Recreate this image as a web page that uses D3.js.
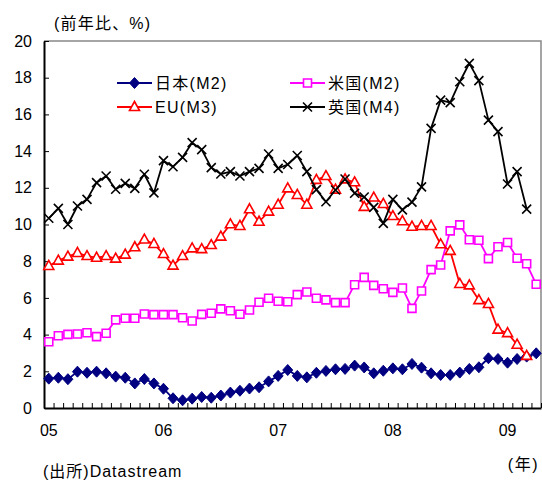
<!DOCTYPE html>
<html>
<head>
<meta charset="utf-8">
<script src="https://cdn.jsdelivr.net/npm/d3@7/dist/d3.min.js"></script>
<style>
  html, body { margin: 0; padding: 0; background: #fff; }
  svg { display: block; }
  text { font-family: "Liberation Sans", Arial, "Noto Sans CJK JP", sans-serif; fill: #000; }
</style>
</head>
<body>
<svg id="chart" width="542" height="480"></svg>
<script>
// Monthly categories, Jan 2005 – Apr 2009
const months = [
  "2005-01","2005-02","2005-03","2005-04","2005-05","2005-06","2005-07","2005-08","2005-09","2005-10","2005-11","2005-12",
  "2006-01","2006-02","2006-03","2006-04","2006-05","2006-06","2006-07","2006-08","2006-09","2006-10","2006-11","2006-12",
  "2007-01","2007-02","2007-03","2007-04","2007-05","2007-06","2007-07","2007-08","2007-09","2007-10","2007-11","2007-12",
  "2008-01","2008-02","2008-03","2008-04","2008-05","2008-06","2008-07","2008-08","2008-09","2008-10","2008-11","2008-12",
  "2009-01","2009-02","2009-03","2009-04"
];
const yearTicks = ["2005-01","2006-01","2007-01","2008-01","2009-01"];
const yearLabels = ["05","06","07","08","09"];
const yTicks = [0, 2, 4, 6, 8, 10, 12, 14, 16, 18, 20];

// Money supply growth, year-on-year %
const japanM2 = [1.60,1.65,1.57,1.98,1.92,1.98,1.89,1.71,1.65,1.34,1.58,1.34,
  1.05,0.53,0.42,0.51,0.60,0.56,0.68,0.84,0.94,1.06,1.13,1.45,
  1.75,2.07,1.75,1.67,1.92,2.02,2.11,2.13,2.31,2.21,1.89,2.03,
  2.16,2.11,2.40,2.20,1.89,1.80,1.80,1.93,2.13,2.22,2.71,2.67,
  2.47,2.67,2.80,2.98];
const usM2 = [3.61,3.94,4.01,4.03,4.10,3.89,4.07,4.80,4.89,4.89,5.12,5.09,
  5.09,5.09,4.92,4.74,5.10,5.16,5.40,5.30,5.11,5.34,5.76,5.98,
  5.82,5.79,6.18,6.32,5.98,5.89,5.74,5.74,6.72,7.12,6.68,6.50,
  6.30,6.54,5.43,6.38,7.54,7.79,9.65,9.98,9.17,9.14,8.14,8.79,
  9.02,8.16,7.86,6.74];
const euM3 = [7.74,8.03,8.25,8.45,8.28,8.19,8.28,8.14,8.36,8.76,9.18,8.94,
  8.39,7.76,8.28,8.70,8.66,8.88,9.34,10.01,9.92,10.83,10.15,10.70,
  11.08,11.97,11.61,11.08,12.43,12.64,11.90,12.46,12.30,10.96,11.47,11.12,
  10.46,10.18,9.88,9.92,9.92,8.92,8.56,6.76,6.68,5.88,5.67,4.27,
  4.08,3.45,2.84];
const ukM4 = [10.34,10.88,10.00,11.01,11.37,12.28,12.64,11.92,12.24,11.97,12.74,11.72,
  13.48,13.15,13.66,14.46,14.08,13.10,12.75,12.88,12.64,12.88,13.06,13.84,
  13.06,13.27,13.76,12.88,11.90,11.24,11.88,12.48,11.70,11.50,10.93,10.06,
  11.37,10.80,11.22,12.05,15.24,16.78,16.64,17.78,18.78,17.84,15.69,15.06,
  12.21,12.88,10.84];

const seriesNames = ["日本(M2)", "米国(M2)", "EU(M3)", "英国(M4)"];
const seriesColors = ["#000080", "#FF00FF", "#FF0000", "#000000"];
const seriesMarkers = ["diamond", "square", "triangle", "cross"];
const seriesValues = [japanM2, usM2, euM3, ukM4];

const svg = d3.select("#chart");
const L = 44, R = 541, T = 41, B = 408;

const x = d3.scaleBand().domain(months).range([L, R]).padding(0);
const xEdge = d3.scaleLinear().domain([0, months.length]).range([L, R]);
const y = d3.scaleLinear().domain([0, 20]).range([B, T]);

// marker path generators
function markerPath(kind) {
  switch (kind) {
    case "diamond": return "M0,-5.5L5,0L0,5.5L-5,0Z";
    case "square": return "M-4,-4H4V4H-4Z";
    case "triangle": return "M0,-5.5L5,3.5H-5Z";
    case "cross": return "M-4.5,-4.5L4.5,4.5M-4.5,4.5L4.5,-4.5";
  }
}
function markerFill(kind, color) {
  if (kind === "diamond") return color;
  if (kind === "cross") return "none";
  return "#fff";
}

// frame: top and right in grey
svg.append("path")
  .attr("d", `M${L},${T}H${R}V${B}`)
  .attr("fill", "none").attr("stroke", "#888").attr("stroke-width", 1.5);

// y axis with inward ticks
const yAxis = svg.append("g").attr("transform", `translate(${L},0)`)
  .call(d3.axisLeft(y).tickValues(yTicks).tickSizeInner(-5).tickSizeOuter(0).tickPadding(12));
yAxis.select(".domain").attr("stroke", "#000").attr("stroke-width", 2);
yAxis.selectAll(".tick line").attr("stroke", "#000").attr("stroke-width", 1);
yAxis.selectAll(".tick text").attr("font-size", 16).attr("font-family", "Liberation Sans, Arial, sans-serif").attr("fill", "#000");

// x axis: month boundary ticks pointing inward
const xTickAxis = svg.append("g").attr("transform", `translate(0,${B})`)
  .call(d3.axisBottom(xEdge).tickValues(d3.range(months.length + 1)).tickSizeInner(-5).tickSizeOuter(0).tickFormat(""));
xTickAxis.select(".domain").attr("stroke", "#000").attr("stroke-width", 2);
xTickAxis.selectAll(".tick line").attr("stroke", "#000").attr("stroke-width", 1);

// year labels centred on January
const xLabelAxis = svg.append("g").attr("transform", `translate(0,${B})`)
  .call(d3.axisBottom(x).tickValues(yearTicks).tickSize(0).tickPadding(17)
    .tickFormat(d => yearLabels[yearTicks.indexOf(d)]));
xLabelAxis.select(".domain").remove();
xLabelAxis.selectAll(".tick text").attr("font-size", 16).attr("font-family", "Liberation Sans, Arial, sans-serif").attr("fill", "#000");

// series lines and markers
const line = d3.line()
  .x((d, i) => x(months[i]) + x.bandwidth() / 2)
  .y(d => y(d));

seriesValues.forEach((vals, s) => {
  const g = svg.append("g");
  g.append("path").datum(vals)
    .attr("d", line)
    .attr("fill", "none")
    .attr("stroke", seriesColors[s])
    .attr("stroke-width", 1.8)
    .attr("stroke-linejoin", "round");
  g.selectAll("path.mk").data(vals).join("path")
    .attr("class", "mk")
    .attr("transform", (d, i) => `translate(${x(months[i]) + x.bandwidth() / 2},${y(d)})`)
    .attr("d", markerPath(seriesMarkers[s]))
    .attr("fill", markerFill(seriesMarkers[s], seriesColors[s]))
    .attr("stroke", seriesColors[s])
    .attr("stroke-width", seriesMarkers[s] === "diamond" ? 1 : 1.6);
});

// legend, two columns
const legendPos = [[117, 83], [290, 83], [117, 107], [290, 107]];
seriesNames.forEach((name, s) => {
  const [lx, ly] = legendPos[s];
  const g = svg.append("g").attr("transform", `translate(${lx},${ly})`);
  g.append("line").attr("x1", 0).attr("x2", 35).attr("y1", 0).attr("y2", 0)
    .attr("stroke", seriesColors[s]).attr("stroke-width", 1.8);
  g.append("path").attr("transform", "translate(17.5,0)")
    .attr("d", markerPath(seriesMarkers[s]))
    .attr("fill", markerFill(seriesMarkers[s], seriesColors[s]))
    .attr("stroke", seriesColors[s])
    .attr("stroke-width", seriesMarkers[s] === "diamond" ? 1 : 1.6);
  g.append("text").attr("x", 38).attr("y", 6)
    .attr("font-size", 16).attr("letter-spacing", 1.3)
    .text(name);
});

// titles and notes
svg.append("text").attr("x", 54).attr("y", 29).attr("font-size", 16).attr("letter-spacing", 1.2)
  .text("(前年比、%)");
svg.append("text").attr("x", 539).attr("y", 470).attr("font-size", 16).attr("text-anchor", "end")
  .attr("letter-spacing", 1.5).text("(年)");
svg.append("text").attr("x", 43).attr("y", 477).attr("font-size", 16).attr("letter-spacing", 1)
  .text("(出所)Datastream");
</script>
</body>
</html>
